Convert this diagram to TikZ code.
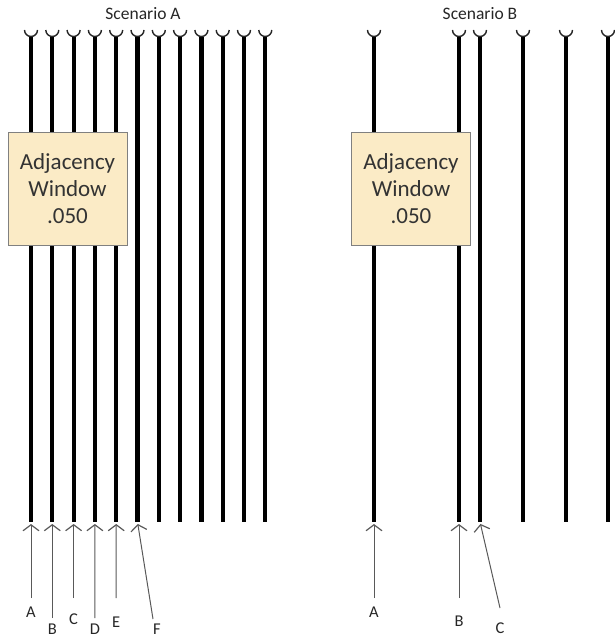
\documentclass[tikz,border=0pt]{standalone}
\usepackage{fontspec}
\setmainfont{Carlito}
\usetikzlibrary{arrows.meta}
\definecolor{winfill}{HTML}{FBEBC6}
\begin{document}
\begin{tikzpicture}[x=1pt,y=-1pt,
  wire/.style={line width=4.2pt,black},
  cupline/.style={line width=1.4pt,black!85},
  pointer/.style={line width=1pt,black!65,shorten >=2pt,-{Straight Barb[length=6pt,width=16pt,line width=1.2pt]}},
  lbl/.style={font=\fontsize{16.5}{16.5}\selectfont,text=black!85,inner sep=0pt},
  ttl/.style={font=\fontsize{17.5}{17.5}\selectfont,text=black!85,inner sep=0pt},
  win/.style={draw=black!50,line width=1pt,fill=winfill,minimum width=119pt,minimum height=112pt,align=center,font=\fontsize{23}{27}\selectfont,text=black!80,inner sep=0pt}]
\useasboundingbox (0,0) rectangle (614,639);

% titles
\node[ttl] (ttlA) at (143,14) {Scenario A};
\node[ttl] (ttlB) at (480,14) {Scenario B};

% Scenario A wires
\foreach \i in {0,...,11} {
  \pgfmathsetmacro\xx{31+21.3*\i}
  \coordinate (at\i) at (\xx,37);
  \coordinate (ab\i) at (\xx,522);
  \draw[wire] (at\i) -- (ab\i);
  \draw[cupline] (\xx-6.5,30) arc[start angle=180,end angle=360,radius=6.5pt];
}

% Scenario B wires
\foreach \xx [count=\i] in {374,459,480,523,566,608} {
  \coordinate (bt\i) at (\xx,37);
  \coordinate (bb\i) at (\xx,522);
  \draw[wire] (bt\i) -- (bb\i);
  \draw[cupline] (\xx-6.5,30) arc[start angle=180,end angle=360,radius=6.5pt];
}

% windows
\node[win] (winA) at (67.5,189) {Adjacency\\Window\\.050};
\node[win] (winB) at (411,189) {Adjacency\\Window\\.050};

% Scenario A labels and pointers
\node[lbl] (lA) at (31,612) {A};
\node[lbl] (lB) at (52.3,629) {B};
\node[lbl] (lC) at (73.6,619) {C};
\node[lbl] (lD) at (94.9,629) {D};
\node[lbl] (lE) at (116.2,622) {E};
\node[lbl] (lF) at (157,629) {F};
\coordinate (tA) at (31,598);
\coordinate (tB) at (52.3,618);
\coordinate (tC) at (73.6,598);
\coordinate (tD) at (94.9,618);
\coordinate (tE) at (116.2,598);
\coordinate (tF) at (153,619);
\draw[pointer] (tA) -- (ab0);
\draw[pointer] (tB) -- (ab1);
\draw[pointer] (tC) -- (ab2);
\draw[pointer] (tD) -- (ab3);
\draw[pointer] (tE) -- (ab4);
\draw[pointer] (tF) -- (ab5);

% Scenario B labels and pointers
\node[lbl] (mA) at (374,612) {A};
\node[lbl] (mB) at (459,621) {B};
\node[lbl] (mC) at (500,628) {C};
\coordinate (sA) at (374,598);
\coordinate (sB) at (459,598);
\coordinate (sC) at (500,608);
\draw[pointer] (sA) -- (bb1);
\draw[pointer] (sB) -- (bb2);
\draw[pointer] (sC) -- (bb3);
\end{tikzpicture}
\end{document}
